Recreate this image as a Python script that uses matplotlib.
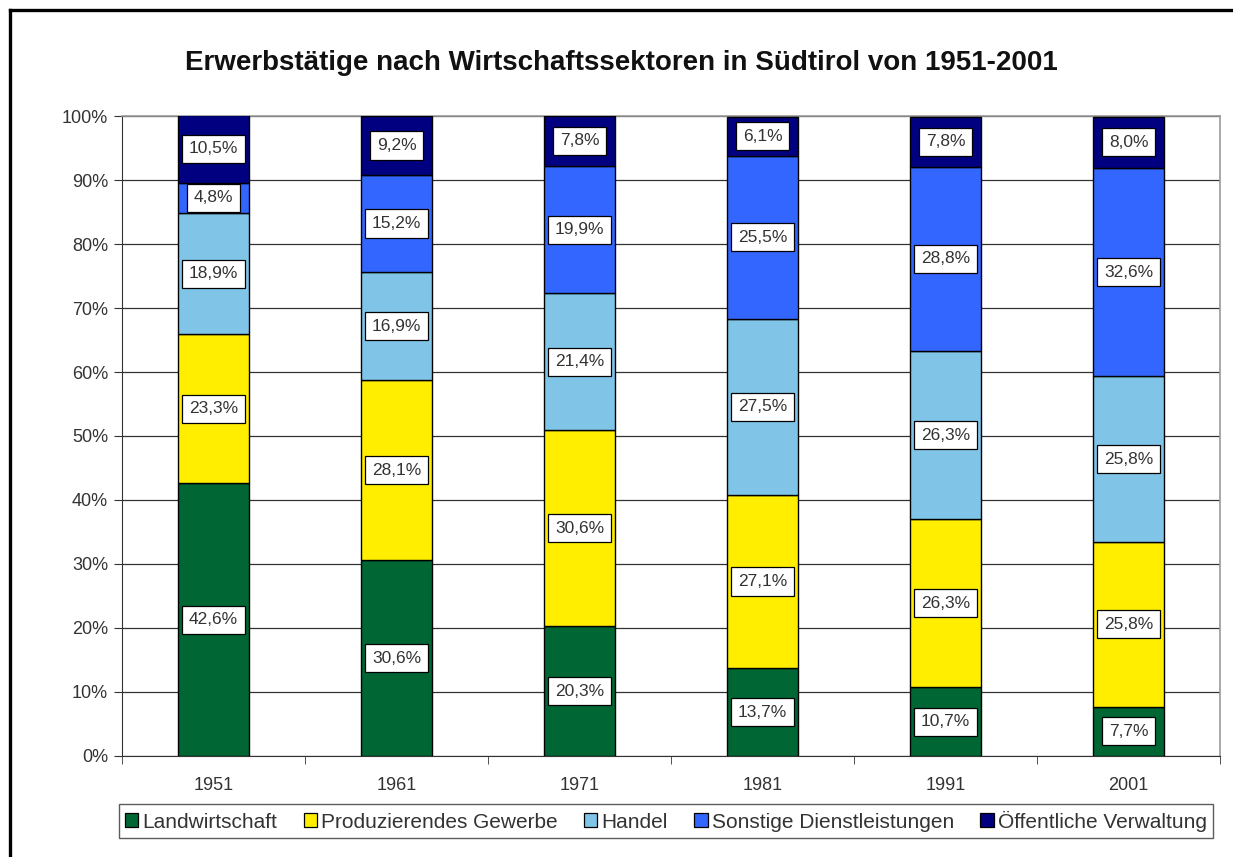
import matplotlib
matplotlib.use("Agg")
import matplotlib.pyplot as plt
from matplotlib.lines import Line2D
from matplotlib.patches import Patch
import numpy as np

plt.rcParams["font.family"] = ["Liberation Sans", "DejaVu Sans"]

years = ["1951", "1961", "1971", "1981", "1991", "2001"]
sectors = ["Landwirtschaft", "Produzierendes Gewerbe", "Handel",
           "Sonstige Dienstleistungen", "Öffentliche Verwaltung"]
landwirtschaft = [42.6, 30.6, 20.3, 13.7, 10.7, 7.7]
gewerbe = [23.3, 28.1, 30.6, 27.1, 26.3, 25.8]
handel = [18.9, 16.9, 21.4, 27.5, 26.3, 25.8]
dienstleistungen = [4.8, 15.2, 19.9, 25.5, 28.8, 32.6]
verwaltung = [10.5, 9.2, 7.8, 6.1, 7.8, 8.0]
colors = ["#006633", "#FFEE00", "#80C4E8", "#3366FF", "#000080"]

series = [landwirtschaft, gewerbe, handel, dienstleistungen, verwaltung]

fig = plt.figure(figsize=(12.33, 8.57), dpi=100)
ax = fig.add_axes([0.0989, 0.1179, 0.8906, 0.7467])

x = np.arange(len(years))
bottom = np.zeros(len(years))
for vals, col, name in zip(series, colors, sectors):
    vals = np.asarray(vals)
    ax.bar(x, vals, 0.39, bottom=bottom, color=col, edgecolor="black",
           linewidth=1.0, label=name, zorder=3)
    for xi, b, v in zip(x, bottom, vals):
        ax.text(xi, b + v / 2, f"{v:.1f}%".replace(".", ","), ha="center",
                va="center", fontsize=12.5, color="#333333", zorder=5,
                bbox=dict(boxstyle="square,pad=0.38", fc="white",
                          ec="black", lw=0.9))
    bottom += vals

ax.set_xlim(-0.5, len(years) - 0.5)
ax.set_ylim(0, 100)
ax.set_yticks(np.arange(0, 101, 10))
ax.set_yticklabels([f"{v}%" for v in range(0, 101, 10)])
ax.set_xticks(x)
ax.set_xticklabels(years)
ax.set_xticks(np.arange(-0.5, len(years), 1), minor=True)
ax.tick_params(axis="x", which="major", length=0, pad=15, labelsize=13,
               labelcolor="#333333")
ax.tick_params(axis="x", which="minor", length=6, direction="out",
               color="#333333")
ax.tick_params(axis="y", length=6, direction="out", color="#333333",
               labelsize=13, labelcolor="#333333", pad=4)
ax.yaxis.grid(True, color="#333333", linewidth=0.9, zorder=0)
ax.set_axisbelow(True)
for side in ["left", "bottom"]:
    ax.spines[side].set_color("#333333")
for side in ["top", "right"]:
    ax.spines[side].set_color("#999999")
    ax.spines[side].set_linewidth(1.2)

fig.text(0.504, 0.9265, "Erwerbstätige nach Wirtschaftssektoren in Südtirol von 1951-2001",
         ha="center", va="center", fontsize=20, fontweight="bold", color="#111111")

handles = [Patch(facecolor=c, edgecolor="black", linewidth=0.9) for c in colors]
leg = fig.legend(handles, sectors, loc="center", bbox_to_anchor=(0.54, 0.042),
                 ncol=5, fontsize=15, frameon=True, fancybox=False,
                 edgecolor="#333333", handlelength=0.65, handleheight=0.65,
                 handletextpad=0.2, columnspacing=1.25, borderpad=0.3)
leg.get_frame().set_linewidth(1.0)
for t in leg.get_texts():
    t.set_color("#333333")

# outer frame (only top and left visible in the crop)
fig.add_artist(Line2D([10 / 1233, 1.0], [1 - 10 / 857, 1 - 10 / 857],
                      color="black", linewidth=2.4, transform=fig.transFigure))
fig.add_artist(Line2D([10 / 1233, 10 / 1233], [0.0, 1 - 10 / 857],
                      color="black", linewidth=2.4, transform=fig.transFigure))

fig.savefig("out.png", dpi=100)
